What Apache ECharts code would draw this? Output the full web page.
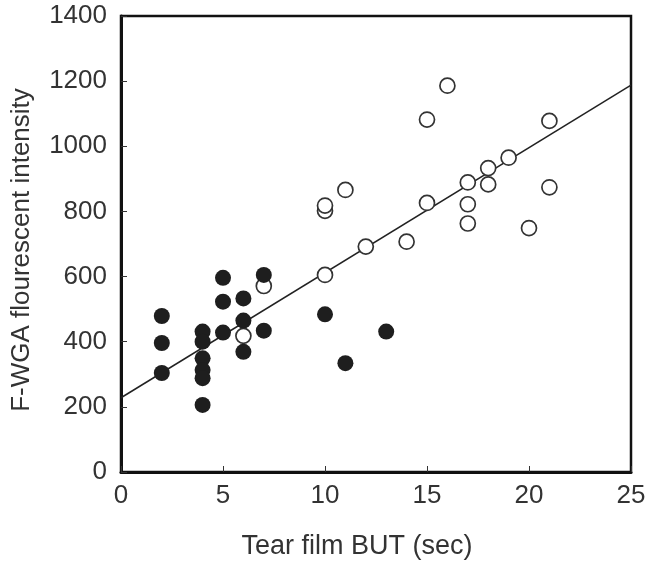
<!DOCTYPE html>
<html>
<head>
<meta charset="utf-8">
<script src="https://cdn.jsdelivr.net/npm/echarts@6/dist/echarts.min.js"></script>
<style>html,body{margin:0;padding:0;background:#fff}#c{width:651px;height:566px}</style>
</head>
<body>
<div id="c"></div>
<script>
// Filled circles
const filledX = [2, 2, 2, 4, 4, 4, 4, 4, 4, 5, 5, 5, 6, 6, 6, 7, 7, 10, 11, 13];
const filledY = [479, 396, 304, 431, 400, 349, 313, 288, 206, 596, 523, 428, 533, 465, 369, 605, 434, 484, 334, 431];
// Open circles
const openX = [6, 7, 10, 10, 10, 11, 12, 14, 15, 15, 16, 17, 17, 17, 18, 18, 19, 20, 21, 21];
const openY = [418, 571, 605, 802, 818, 866, 692, 707, 826, 1082, 1186, 889, 822, 763, 933, 883, 965, 749, 1078, 874];
// Regression line endpoints
const fitX = [0, 25];
const fitY = [228, 1188];
const xTicks = [0, 5, 10, 15, 20, 25];
const yTicks = [0, 200, 400, 600, 800, 1000, 1200, 1400];

const zip = (a, b) => a.map((v, i) => [v, b[i]]);
const chart = echarts.init(document.getElementById('c'));
const font = 'Liberation Sans, Arial, sans-serif';
chart.setOption({
  animation: false,
  grid: { left: 121, right: 20, top: 16, bottom: 94, show: true, borderColor: '#111', borderWidth: 2.5, backgroundColor: 'transparent' },
  xAxis: {
    type: 'value', min: 0, max: 25, interval: 5,
    name: 'Tear film BUT (sec)', nameLocation: 'middle', nameGap: 61,
    nameTextStyle: { fontFamily: font, fontSize: 27, color: '#333', padding: [0, 38, 0, 0] },
    axisLine: { show: true, lineStyle: { color: '#111', width: 3 } },
    axisTick: { show: true, inside: true, length: 6, lineStyle: { color: '#333', width: 1 } },
    axisLabel: { fontFamily: font, fontSize: 26, color: '#333', margin: 11, formatter: v => String(v) },
    splitLine: { show: false }
  },
  yAxis: {
    type: 'value', min: 0, max: 1400, interval: 200,
    name: 'F-WGA flourescent intensity', nameLocation: 'middle', nameGap: 86,
    nameTextStyle: { fontFamily: font, fontSize: 26, color: '#333', padding: [0, 12, 0, 0] },
    axisLine: { show: true, lineStyle: { color: '#111', width: 3 } },
    axisTick: { show: true, inside: true, length: 6, lineStyle: { color: '#333', width: 1 } },
    axisLabel: { fontFamily: font, fontSize: 26, color: '#333', margin: 14, formatter: v => String(v) },
    splitLine: { show: false }
  },
  series: [
    {
      type: 'line', data: zip(fitX, fitY), symbol: 'none',
      lineStyle: { color: '#222', width: 1.5 }, z: 1, silent: true
    },
    {
      type: 'scatter', data: zip(openX, openY), symbol: 'circle', symbolSize: 15,
      itemStyle: { color: '#fff', borderColor: '#333', borderWidth: 1.7, opacity: 1 }, z: 2
    },
    {
      type: 'scatter', data: zip(filledX, filledY), symbol: 'circle', symbolSize: 16,
      itemStyle: { color: '#1e1e1e', borderColor: '#1e1e1e', borderWidth: 0, opacity: 1 }, z: 3
    }
  ]
});
</script>
</body>
</html>
